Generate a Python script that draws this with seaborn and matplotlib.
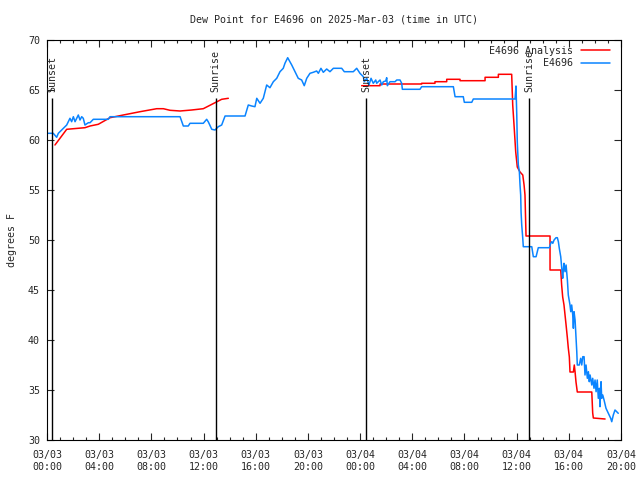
import numpy as np
import pandas as pd
import matplotlib
matplotlib.use("Agg")
import matplotlib.pyplot as plt
import matplotlib.dates as mdates
from matplotlib.lines import Line2D
import seaborn as sns

# ---------------- data (hours after 2025-03-03 00:00 UTC, dew point in F) -------------
base_time = "2025-03-03 00:00"

analysis_seg1_hours = [0.61, 1.51, 2.91, 3.30, 3.93, 4.83, 5.85, 7.13, 8.41, 8.92, 9.43,
                       10.20, 11.09, 11.98, 12.88, 13.39, 13.90]
analysis_seg1_vals = [59.5, 61.07, 61.23, 61.4, 61.57, 62.23, 62.5, 62.83, 63.13, 63.13, 62.97,
                      62.9, 63.0, 63.13, 63.73, 64.07, 64.17]

analysis_seg2_hours = [24.12, 25.53, 25.53, 28.72, 28.72, 29.74, 29.74, 30.64, 30.64, 31.66,
                       31.66, 33.58, 33.58, 34.60, 34.60, 35.62,
                       35.70, 35.80, 35.93, 36.05, 36.26, 36.47, 36.57, 36.64, 36.72,
                       38.56, 38.56, 39.38, 39.45, 39.53, 39.63, 39.71, 39.79, 39.89, 39.96,
                       40.04, 40.09, 40.35, 40.42, 40.48, 40.55, 40.65, 41.76, 41.83, 41.88, 42.78]
analysis_seg2_vals = [65.43, 65.43, 65.6, 65.6, 65.67, 65.67, 65.83, 65.83, 66.07, 66.07,
                      65.93, 65.93, 66.27, 66.27, 66.57, 66.57,
                      63.5, 61.5, 58.8, 57.3, 56.8, 56.5, 55.5, 54.5, 50.4,
                      50.4, 47.0, 47.0, 45.5, 44.3, 43.5, 42.5, 41.5, 40.2, 39.2,
                      38.3, 36.8, 36.8, 37.5, 36.8, 35.8, 34.8, 34.8, 32.7, 32.2, 32.1]

obs_hours = [0.10, 0.48, 0.74, 0.87, 1.25, 1.51, 1.76, 1.89, 2.02, 2.15, 2.40, 2.53, 2.66, 2.78,
             2.91, 3.17, 3.30, 3.55, 4.70, 4.83, 10.20, 10.45, 10.83, 10.96, 11.98, 12.24,
             12.37, 12.63, 12.88, 13.13, 13.39, 13.65, 15.18, 15.43, 15.69, 15.94, 16.08,
             16.33, 16.58, 16.84, 17.09, 17.35, 17.61, 17.86, 18.11, 18.24, 18.45, 18.76,
             19.01, 19.26, 19.52, 19.72, 19.91, 20.16, 20.41, 20.67, 20.80, 21.00, 21.18,
             21.44, 21.69, 21.95, 22.59, 22.79, 23.48, 23.74, 23.99, 24.25, 24.32, 24.51,
             24.68, 24.84, 25.01, 25.20, 25.27, 25.53, 25.66, 25.78, 25.96, 26.04, 26.09,
             26.29, 26.68, 26.81, 27.06, 27.19, 27.24, 28.59, 28.72, 31.15, 31.28, 31.91,
             31.99, 32.56, 32.68, 35.88, 35.95, 36.01, 36.05, 36.13, 36.21, 36.26, 36.31,
             36.34, 36.39, 36.47, 36.51, 37.16, 37.28, 37.49, 37.66, 38.51, 38.61, 38.69,
             38.77, 38.87, 39.02, 39.12, 39.20, 39.27, 39.38, 39.46, 39.53, 39.58, 39.63,
             39.71, 39.79, 39.89, 39.96, 40.09, 40.15, 40.22, 40.30, 40.35, 40.40, 40.48,
             40.55, 40.61, 40.65, 40.80, 40.91, 40.99, 41.07, 41.17, 41.24, 41.32, 41.42,
             41.50, 41.57, 41.63, 41.76, 41.83, 41.93, 42.01, 42.09, 42.18, 42.26, 42.34,
             42.39, 42.47, 42.52, 42.60, 42.70, 42.85, 43.03, 43.21, 43.29, 43.41, 43.54,
             43.67, 43.79]
obs_vals = [60.67, 60.67, 60.27, 60.67, 61.17, 61.5, 62.17, 61.83, 62.33, 61.83, 62.5, 62.0,
            62.33, 62.17, 61.5, 61.73, 61.73, 62.07, 62.07, 62.33, 62.33, 61.4, 61.4, 61.67,
            61.67, 62.07, 61.8, 61.07, 61.0, 61.33, 61.5, 62.4, 62.4, 63.5, 63.4, 63.33,
            64.17, 63.67, 64.17, 65.5, 65.23, 65.83, 66.17, 66.83, 67.17, 67.67, 68.23, 67.5,
            66.83, 66.17, 66.0, 65.43, 66.17, 66.67, 66.77, 66.9, 66.67, 67.17, 66.77, 67.1,
            66.83, 67.17, 67.17, 66.83, 66.83, 67.17, 66.67, 66.33, 65.83, 66.17, 65.5, 66.17,
            65.67, 66.0, 65.67, 66.0, 65.5, 65.83, 65.9, 66.23, 65.43, 65.83, 65.83, 66.0,
            66.0, 65.67, 65.07, 65.07, 65.33, 65.33, 64.33, 64.33, 63.77, 63.77, 64.1, 64.1,
            65.4, 62.5, 59.8, 57.5, 56.8, 55.5, 54.5, 52.8, 51.5, 50.17, 49.33, 49.33, 48.33,
            48.33, 49.23, 49.23, 49.67, 49.83, 49.67, 50.0, 50.23, 50.23, 49.83, 49.17, 48.33,
            47.17, 46.17, 47.0, 47.67, 46.83, 47.5, 46.0, 44.5, 43.5, 42.83, 43.5, 42.5, 41.17,
            42.83, 42.0, 40.33, 38.83, 37.5, 37.5, 38.17, 37.5, 38.33, 38.33, 36.5, 37.5,
            36.17, 36.83, 35.83, 36.5, 35.5, 36.17, 35.17, 36.0, 34.83, 36.0, 34.17, 35.17,
            33.33, 35.83, 34.17, 34.5, 34.0, 33.17, 32.67, 32.17, 31.83, 32.5, 33.0, 32.83,
            32.67]

sun_events = ["2025-03-03 00:24", "2025-03-03 12:55", "2025-03-04 00:29", "2025-03-04 12:57"]
sun_labels = ["Sunset", "Sunrise", "Sunset", "Sunrise"]

series_names = ["E4696 Analysis", "E4696"]
title = "Dew Point for E4696 on 2025-Mar-03 (time in UTC)"
ylabel = "degrees F"
y_ticks = [30, 35, 40, 45, 50, 55, 60, 65, 70]

# ---------------- build frames ----------------
t0 = pd.Timestamp(base_time)
def to_time(h):
    return t0 + pd.to_timedelta(np.asarray(h), unit="h")

df_an = pd.concat([
    pd.DataFrame({"time": to_time(analysis_seg1_hours), "dewp": analysis_seg1_vals, "seg": 1}),
    pd.DataFrame({"time": to_time(analysis_seg2_hours), "dewp": analysis_seg2_vals, "seg": 2}),
], ignore_index=True)
df_ob = pd.DataFrame({"time": to_time(obs_hours), "dewp": obs_vals, "seg": 1})

# ---------------- style ----------------
sns.set_style("ticks")
plt.rcParams["font.family"] = ["DejaVu Sans Mono"]
plt.rcParams["font.size"] = 7.2
plt.rcParams["xtick.direction"] = "in"
plt.rcParams["ytick.direction"] = "in"

fig = plt.figure(figsize=(6.4, 4.8), dpi=100)
ax = fig.add_axes([47 / 640, 1 - 440 / 480, (621 - 47) / 640, 400 / 480])

red = "#ff0000"
blue = "#0a84ff"

sns.lineplot(data=df_an, x="time", y="dewp", units="seg", estimator=None, sort=False,
             color=red, lw=1.1, ax=ax)
sns.lineplot(data=df_ob, x="time", y="dewp", units="seg", estimator=None, sort=False,
             color=blue, lw=1.1, ax=ax)

# sunrise / sunset markers
for ts, lab in zip(sun_events, sun_labels):
    t = pd.Timestamp(ts)
    ax.vlines(t, 30, 64.2, color="black", lw=1.0)
    ax.text(t, 64.75, lab, rotation=90, ha="center", va="bottom", fontsize=7.2)

ax.set_xlim(t0, t0 + pd.Timedelta(hours=44))
ax.set_ylim(30, 70)
ax.set_yticks(y_ticks)
ax.set_yticklabels([str(v) for v in y_ticks])
ax.xaxis.set_major_locator(mdates.HourLocator(byhour=range(0, 24, 4)))
ax.xaxis.set_minor_locator(mdates.HourLocator())
ax.xaxis.set_major_formatter(mdates.DateFormatter("%m/%d\n%H:%M"))
ax.tick_params(which="major", length=5, width=0.8, top=True, right=True, pad=5)
ax.tick_params(which="minor", length=2.5, width=0.8, top=True, right=True)
ax.tick_params(axis="x", which="major", pad=7.5)
for s in ax.spines.values():
    s.set_visible(True)
    s.set_linewidth(0.8)
    s.set_color("black")

ax.set_xlabel("")
ax.set_ylabel(ylabel, fontsize=7.2, labelpad=8)
ax.set_title(title, fontsize=7.2, pad=12.5)

handles = [Line2D([], [], color=red, lw=1.1), Line2D([], [], color=blue, lw=1.1)]
ax.legend(handles, series_names, loc="upper right", markerfirst=False, frameon=False,
          bbox_to_anchor=(1 - 5 / 574, 1.0),
          handlelength=2.9, handletextpad=0.8, labelspacing=0.25,
          borderaxespad=0.0, borderpad=0.6, fontsize=7.2)

fig.savefig("out.png", dpi=100)
